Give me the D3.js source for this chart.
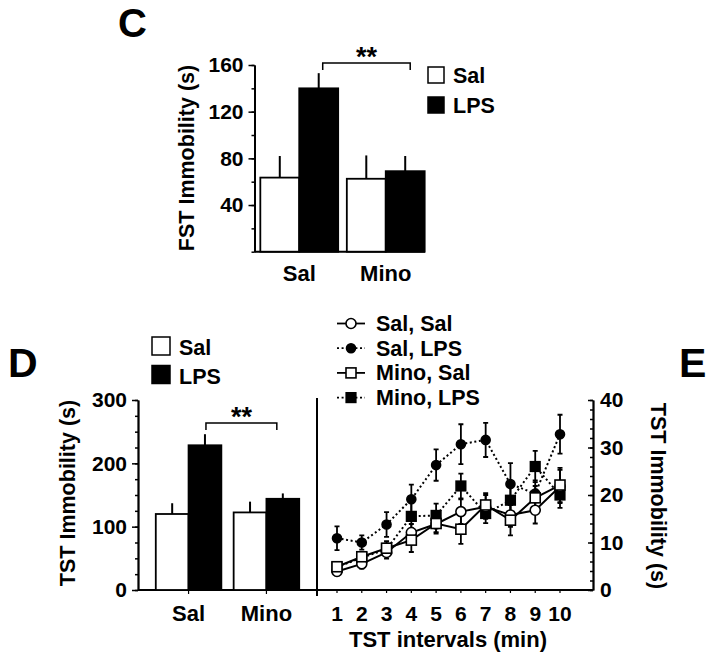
<!DOCTYPE html>
<html><head><meta charset="utf-8">
<script src="https://cdn.jsdelivr.net/npm/d3@7"></script>
<style>
html,body{margin:0;padding:0;background:#fff;}
svg text{font-family:"Liberation Sans",Arial,sans-serif;font-weight:bold;fill:#000;}
</style></head>
<body>
<svg id="chart" width="712" height="662"></svg>
<script>
// ---------- DATA ----------
const groups = ["Sal", "Mino"];
const treatments = ["Sal", "LPS"];
// Panel C: FST immobility (s)
const fstSal = [63.5, 62.5];
const fstSalErr = [18.5, 20];
const fstLPS = [140, 69];
const fstLPSErr = [13, 13];
const fstTicks = [40, 80, 120, 160];
// Panel D: TST immobility (s)
const tstSal = [120, 122.5];
const tstSalErr = [17, 17];
const tstLPS = [228.5, 144];
const tstLPSErr = [17.5, 8.5];
const tstTicks = [0, 100, 200, 300];
// Panel E: TST immobility per 1-min interval
const intervals = [1, 2, 3, 4, 5, 6, 7, 8, 9, 10];
const seriesNames = ["Sal, Sal", "Sal, LPS", "Mino, Sal", "Mino, LPS"];
const salSal = [3.9, 5.5, 7.9, 12.1, 13.9, 16.5, 17.5, 15.8, 16.8, 21.8];
const salSalErr = [0.8, 1.0, 1.3, 1.8, 2.0, 2.6, 2.5, 2.5, 2.8, 3.5];
const salLPS = [10.9, 10.0, 13.8, 19.1, 26.3, 30.7, 31.6, 22.3, 20.3, 32.8];
const salLPSErr = [2.5, 1.5, 2.6, 3.1, 3.3, 4.2, 3.6, 4.4, 2.8, 4.1];
const minoSal = [4.9, 7.0, 8.8, 10.5, 14.0, 12.8, 17.9, 14.7, 19.4, 22.1];
const minoSalErr = [0.7, 1.0, 1.5, 2.5, 1.8, 3.1, 2.5, 3.2, 2.5, 3.6];
const minoLPS = [4.8, 6.8, 8.6, 15.5, 15.7, 21.9, 16.1, 18.9, 26.0, 20.0];
const minoLPSErr = [0.8, 1.0, 1.2, 3.1, 2.5, 2.6, 2.0, 3.6, 3.3, 2.7];
const eTicks = [0, 10, 20, 30, 40];

// ---------- DRAW ----------
const svg = d3.select("#chart");
const FS = 21;

function barPanel(opt) {
  const g = svg.append("g");
  const y = d3.scaleLinear().domain(opt.domain).range([opt.y0, opt.y1]);
  const x0 = d3.scaleBand().domain(groups).range(opt.xr).paddingInner(opt.pi).paddingOuter(opt.po);
  const x1 = d3.scaleBand().domain(treatments).range([0, x0.bandwidth()]);
  const vals = [opt.sal, opt.lps], errs = [opt.salErr, opt.lpsErr];
  g.append("line").attr("x1", opt.axisX).attr("x2", opt.baseEnd)
    .attr("y1", y(0)).attr("y2", y(0)).attr("stroke", "#000").attr("stroke-width", 2);
  groups.forEach((grp, gi) => {
    treatments.forEach((t, ti) => {
      const bx = x0(grp) + x1(t);
      const v = vals[ti][gi], e = errs[ti][gi];
      const cx = bx + x1.bandwidth() / 2;
      g.append("line").attr("x1", cx).attr("x2", cx).attr("y1", y(v)).attr("y2", y(v + e))
        .attr("stroke", "#000").attr("stroke-width", 2);
      g.append("rect").attr("x", bx).attr("y", y(v)).attr("width", x1.bandwidth())
        .attr("height", y(0) - y(v)).attr("fill", ti === 0 ? "#fff" : "#000")
        .attr("stroke", "#000").attr("stroke-width", 1.8);
    });
    g.append("text").attr("x", x0(grp) + x0.bandwidth() / 2).attr("y", opt.labelY)
      .attr("text-anchor", "middle").attr("font-size", 22).text(grp);
    if (opt.groupTicks) {
      const c = x0(grp) + x0.bandwidth() / 2;
      g.append("line").attr("x1", c).attr("x2", c).attr("y1", y(0)).attr("y2", y(0) + 4)
        .attr("stroke", "#000").attr("stroke-width", 1.2);
    }
  });
  g.append("g").attr("transform", `translate(${opt.axisX},0)`)
    .call(d3.axisLeft(y).tickValues(d3.range(opt.domain[0], opt.domain[1] + 0.01, opt.minor))
      .tickSize(3).tickSizeOuter(0).tickFormat(""))
    .call(a => a.selectAll("path,line").attr("stroke", "#000").attr("stroke-width", 1.5));
  g.append("g").attr("transform", `translate(${opt.axisX},0)`)
    .call(d3.axisLeft(y).tickValues(opt.ticks).tickSize(6).tickSizeOuter(0).tickPadding(5))
    .call(a => {
      a.select(".domain").attr("stroke", "#000").attr("stroke-width", 2);
      a.selectAll("line").attr("stroke", "#000").attr("stroke-width", 1.5);
      a.selectAll("text").attr("font-size", FS).attr("font-family", null).attr("fill", "#000");
    });
  g.append("text").attr("transform", `translate(${opt.titleX},${opt.titleY}) rotate(-90)`)
    .attr("text-anchor", "middle").attr("font-size", 21.5).text(opt.title);
  const lx = x0("Sal") + x1("LPS") + x1.bandwidth() / 2 + opt.brL;
  const rx = x0("Mino") + x1("LPS") + x1.bandwidth() / 2 + opt.brR;
  g.append("path").attr("d", `M${lx},${opt.brTop + 7}V${opt.brTop}H${rx}V${opt.brTop + 7}`)
    .attr("fill", "none").attr("stroke", "#000").attr("stroke-width", 1.5);
  g.append("text").attr("x", (lx + rx) / 2).attr("y", opt.brTop + 3).attr("text-anchor", "middle")
    .attr("font-size", 27).text("**");
  treatments.forEach((t, i) => {
    g.append("rect").attr("x", opt.legX).attr("y", opt.legY + i * opt.legDy - opt.legS)
      .attr("width", opt.legS).attr("height", opt.legS)
      .attr("fill", i === 0 ? "#fff" : "#000").attr("stroke", "#000").attr("stroke-width", 1.5);
    g.append("text").attr("x", opt.legX + opt.legS + 9).attr("y", opt.legY + i * opt.legDy)
      .attr("font-size", 21.5).text(t);
  });
  g.append("text").attr("x", opt.letterX).attr("y", opt.letterY).attr("font-size", opt.letterFS).text(opt.letter);
}

// Panel C
barPanel({
  domain: [0, 160], y0: 251.7, y1: 65, xr: [256, 429], pi: 0.1, po: 0.05,
  sal: fstSal, lps: fstLPS, salErr: fstSalErr, lpsErr: fstLPSErr,
  axisX: 254.5, baseEnd: 425, labelY: 281, ticks: fstTicks, minor: 20,
  title: "FST Immobility (s)", titleX: 194, titleY: 158,
  brL: 4, brR: 5, brTop: 63, legX: 428, legY: 83, legDy: 30, legS: 16,
  letter: "C", letterX: 118, letterY: 36.5, letterFS: 40, groupTicks: false
});

// Panel D
barPanel({
  domain: [0, 300], y0: 590, y1: 400, xr: [148, 307], pi: 0.158, po: 0.1,
  sal: tstSal, lps: tstLPS, salErr: tstSalErr, lpsErr: tstLPSErr,
  axisX: 138, baseEnd: 593, labelY: 621, ticks: tstTicks, minor: 25,
  title: "TST Immobility (s)", titleX: 75, titleY: 493,
  brL: 1, brR: -6, brTop: 423, legX: 152, legY: 355, legDy: 28.5, legS: 18,
  letter: "D", letterX: 8, letterY: 377, letterFS: 41, groupTicks: true
});

// Panel E
const ex = d3.scaleLinear().domain([1, 10]).range([337, 560]);
const ey = d3.scaleLinear().domain([0, 40]).range([590, 400]);
const E = svg.append("g");
E.append("line").attr("x1", 317).attr("x2", 317).attr("y1", 398).attr("y2", 596)
  .attr("stroke", "#000").attr("stroke-width", 2);
E.selectAll(".xt").data(intervals).join("line")
  .attr("x1", d => ex(d)).attr("x2", d => ex(d)).attr("y1", 590).attr("y2", 593)
  .attr("stroke", "#000").attr("stroke-width", 1.2);
E.selectAll(".xl").data(intervals).join("text")
  .attr("x", d => ex(d)).attr("y", 621).attr("text-anchor", "middle").attr("font-size", FS).text(d => d);
E.append("text").attr("x", 448).attr("y", 647).attr("text-anchor", "middle").attr("font-size", 22)
  .text("TST intervals (min)");
E.append("g").attr("transform", "translate(593,0)")
  .call(d3.axisRight(ey).tickValues(d3.range(0, 40.01, 2)).tickSize(-3).tickSizeOuter(0).tickFormat(""))
  .call(a => a.selectAll("path,line").attr("stroke", "#000").attr("stroke-width", 1.5));
E.append("g").attr("transform", "translate(593,0)")
  .call(d3.axisRight(ey).tickValues(eTicks).tickSize(-5).tickSizeOuter(0).tickPadding(7))
  .call(a => {
    a.select(".domain").attr("stroke", "#000").attr("stroke-width", 2);
    a.selectAll("line").attr("stroke", "#000").attr("stroke-width", 1.5);
    a.selectAll("text").attr("font-size", FS).attr("font-family", null).attr("fill", "#000");
  });
E.append("text").attr("transform", "translate(651,496) rotate(90)").attr("text-anchor", "middle")
  .attr("font-size", 21.5).text("TST Immobility (s)");
E.append("text").attr("x", 679).attr("y", 377).attr("font-size", 41).text("E");

const series = [
  {name: seriesNames[0], v: salSal, e: salSalErr, shape: "circle", fill: "#fff", dash: null},
  {name: seriesNames[1], v: salLPS, e: salLPSErr, shape: "circle", fill: "#000", dash: "2,2.6"},
  {name: seriesNames[2], v: minoSal, e: minoSalErr, shape: "square", fill: "#fff", dash: null},
  {name: seriesNames[3], v: minoLPS, e: minoLPSErr, shape: "square", fill: "#000", dash: "2,2.6"}
];
function marker(sel, s, cx, cy) {
  if (s.shape === "circle") {
    sel.append("circle").attr("cx", cx).attr("cy", cy).attr("r", s.fill === "#000" ? 4.5 : 5)
      .attr("fill", s.fill).attr("stroke", "#000").attr("stroke-width", 1.6);
  } else {
    const h = s.fill === "#000" ? 4.8 : 5;
    sel.append("rect").attr("x", cx - h).attr("y", cy - h).attr("width", 2 * h).attr("height", 2 * h)
      .attr("fill", s.fill).attr("stroke", "#000").attr("stroke-width", 1.6);
  }
}
const line = d3.line().x((d, i) => ex(intervals[i])).y(d => ey(d));
const order = [1, 3, 0, 2];
order.forEach(k => {
  const s = series[k];
  intervals.forEach((t, i) => {
    const cx = ex(t), top = ey(s.v[i] + s.e[i]), bot = ey(s.v[i] - s.e[i]);
    E.append("path").attr("d", `M${cx},${top}V${bot}M${cx - 2.5},${top}H${cx + 2.5}M${cx - 2.5},${bot}H${cx + 2.5}`)
      .attr("stroke", "#000").attr("stroke-width", 1.8).attr("fill", "none");
  });
});
order.forEach(k => {
  const s = series[k];
  E.append("path").attr("d", line(s.v)).attr("fill", "none").attr("stroke", "#000")
    .attr("stroke-width", 2).attr("stroke-dasharray", s.dash);
  intervals.forEach((t, i) => marker(E, s, ex(t), ey(s.v[i])));
});
series.forEach((s, i) => {
  const by = 331 + i * 24.7, cy = by - 7.5;
  E.append("line").attr("x1", 337).attr("x2", 365).attr("y1", cy).attr("y2", cy)
    .attr("stroke", "#000").attr("stroke-width", 1.8).attr("stroke-dasharray", s.dash);
  marker(E, s, 351, cy);
  E.append("text").attr("x", 376).attr("y", by).attr("font-size", 21.5).text(s.name);
});
</script>
</body></html>
